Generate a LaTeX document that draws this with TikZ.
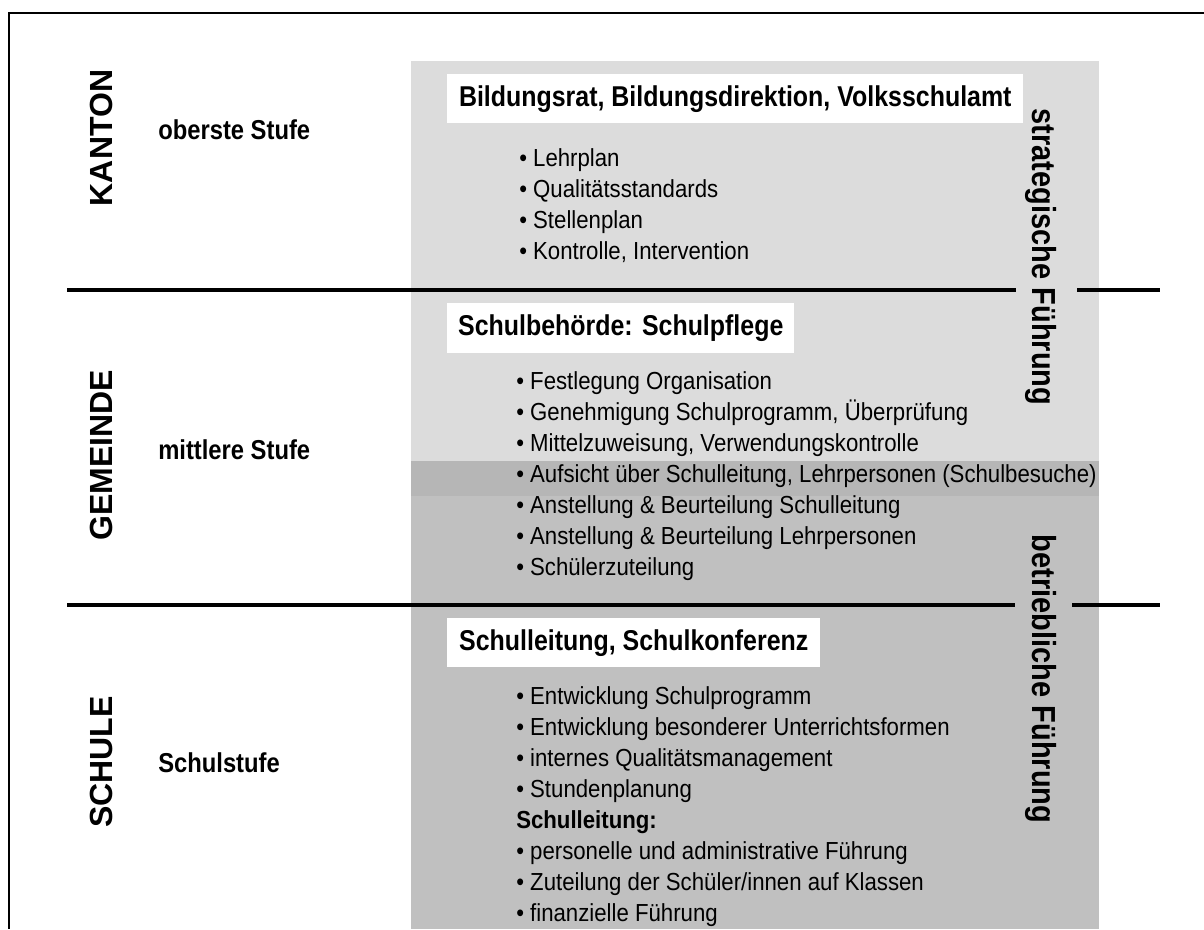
\documentclass[tikz,border=0pt]{standalone}
\usepackage{fontspec}
\setmainfont{Liberation Sans}
\newfontfamily\schmal[FakeStretch=0.87]{Liberation Sans}
\newfontfamily\listenschrift[FakeStretch=0.9]{Liberation Sans}
\usetikzlibrary{positioning}

\definecolor{hellgrau}{RGB}{220,220,220}
\definecolor{bandgrau}{RGB}{182,182,182}
\definecolor{dunkelgrau}{RGB}{192,192,192}

\tikzset{
  trenn/.style={line width=3pt},
  kopf/.style={fill=white, anchor=north west, inner sep=0pt,
    font=\schmal\bfseries\fontsize{21.5}{25}\selectfont},
  liste/.style={anchor=north west, inner sep=0pt, align=left,
    font=\listenschrift\fontsize{18.5}{23.25}\selectfont},
  ebene/.style={rotate=90, inner sep=0pt, font=\bfseries\fontsize{24}{28}\selectfont},
  stufe/.style={anchor=west, inner sep=0pt, font=\schmal\bfseries\fontsize{20.5}{25}\selectfont},
  fuehrung/.style={rotate=-90, inner sep=0pt, font=\schmal\bfseries\fontsize{25}{29}\selectfont}
}

\begin{document}
\begin{tikzpicture}[x=0.75pt,y=0.75pt,yscale=-1,xscale=1]

    \useasboundingbox (0,0) rectangle (1204,929);

    %Frame
    \draw [line width=1.5pt] (1204,13) -- (9,13) -- (9,929) ;

    %Shape: grey areas
    \fill [hellgrau] (411,61) rectangle (1099,461) ;
    \fill [bandgrau] (411,461) rectangle (1099,496) ;
    \fill [dunkelgrau] (411,496) rectangle (1099,929) ;

    %Straight Lines
    \draw [trenn] (67,290) -- (1016,290) ;
    \draw [trenn] (1077,290) -- (1160,290) ;
    \draw [trenn] (67,605) -- (1015,605) ;
    \draw [trenn] (1072,605) -- (1160,605) ;

    %Left labels
    \node [ebene] (kanton) at (101,138) {KANTON};
    \node [ebene] (gemeinde) at (101,455) {GEMEINDE};
    \node [ebene] (schule) at (101,762) {SCHULE};

    \node [stufe] (oberste) at (158,130) {oberste Stufe};
    \node [stufe] (mittlere) at (158,450) {mittlere Stufe};
    \node [stufe] (schulstufe) at (158,763) {Schulstufe};

    %White boxes
    \node [kopf, minimum width=432pt, minimum height=36.75pt] (bildungsrat) at (447,74)
      {Bildungsrat, Bildungsdirektion, Volksschulamt};
    \node [kopf, minimum width=260.25pt, minimum height=37.5pt] (schulpflege) at (447,303)
      {Schulbehörde: Schulpflege};
    \node [kopf, minimum width=279.75pt, minimum height=36.75pt] (schulleitung) at (447,618)
      {Schulleitung, Schulkonferenz};

    %Lists
    \node [liste] (kantonliste) at (519,148)
      {• Lehrplan\\
       • Qualitätsstandards\\
       • Stellenplan\\
       • Kontrolle, Intervention};
    \node [liste] (gemeindeliste) at (516,371)
      {• Festlegung Organisation\\
       • Genehmigung Schulprogramm, Überprüfung\\
       • Mittelzuweisung, Verwendungskontrolle\\
       • Aufsicht über Schulleitung, Lehrpersonen (Schulbesuche)\\
       • Anstellung \& Beurteilung Schulleitung\\
       • Anstellung \& Beurteilung Lehrpersonen\\
       • Schülerzuteilung};
    \node [liste] (schulliste) at (516,686)
      {• Entwicklung Schulprogramm\\
       • Entwicklung besonderer Unterrichtsformen\\
       • internes Qualitätsmanagement\\
       • Stundenplanung\\
       \textbf{Schulleitung:}\\
       • personelle und administrative Führung\\
       • Zuteilung der Schüler/innen auf Klassen\\
       • finanzielle Führung};

    %Right labels
    \node [fuehrung] (strategisch) at (1041,257) {strategische Führung};
    \node [fuehrung] (betrieblich) at (1041,679) {betriebliche Führung};

\end{tikzpicture}
\end{document}
